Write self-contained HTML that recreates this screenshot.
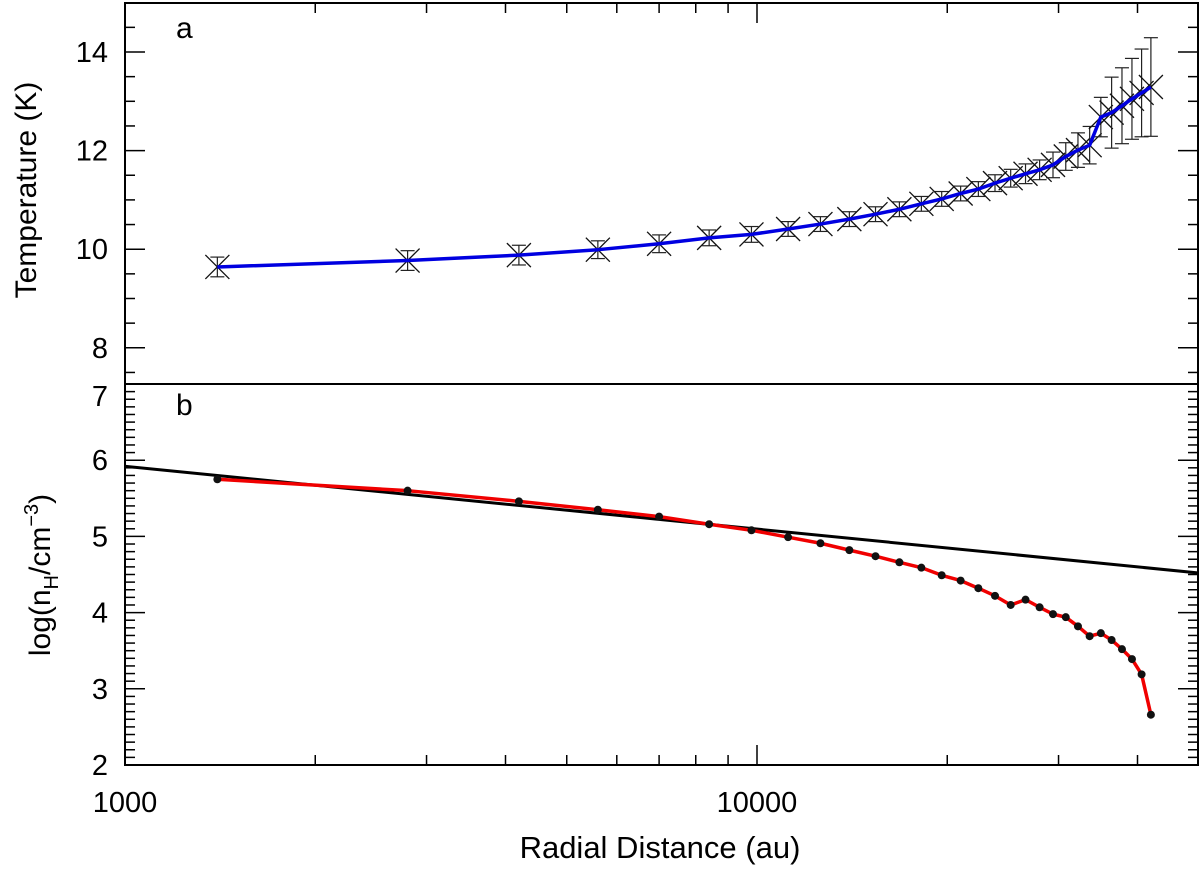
<!DOCTYPE html>
<html><head><meta charset="utf-8"><style>
html,body{margin:0;padding:0;background:#fff;}
svg{display:block;font-family:"Liberation Sans",sans-serif;}
</style></head><body>
<svg id="chart" width="1200" height="876" viewBox="0 0 1200 876">
<g id="axes"></g>
<g id="marks"></g>
<text x="176" y="38" font-size="30">a</text>
<text x="176" y="415" font-size="30">b</text>
<text x="660" y="858" font-size="31" text-anchor="middle">Radial Distance (au)</text>
<text transform="translate(36,190) rotate(-90)" font-size="30" text-anchor="middle">Temperature (K)</text>
<text transform="translate(50,575) rotate(-90)" font-size="30" text-anchor="middle">log(n<tspan font-size="20" dy="8">H</tspan><tspan dy="-8">/cm</tspan><tspan font-size="20" dy="-12">−3</tspan><tspan dy="12">)</tspan></text>
</svg>
<script>
const radiusIndex=[1,2,3,4,5,6,7,8,9,10,11,12,13,14,15,16,17,18,19,20,21,22,23,24,25,26,27,28,29,30];
const radiusStep=1400;
const temperature=[9.64,9.77,9.88,9.99,10.11,10.23,10.3,10.41,10.51,10.61,10.71,10.81,10.92,11.02,11.13,11.22,11.34,11.44,11.53,11.61,11.71,11.88,12.01,12.11,12.68,12.77,12.91,13.05,13.17,13.29];
const tempError=[0.2,0.2,0.2,0.18,0.18,0.16,0.16,0.15,0.15,0.15,0.15,0.15,0.15,0.15,0.15,0.15,0.17,0.18,0.2,0.2,0.26,0.28,0.35,0.38,0.4,0.72,0.77,0.82,0.89,1.0];
const density=[5.75,5.6,5.46,5.35,5.26,5.16,5.08,4.99,4.91,4.82,4.74,4.66,4.59,4.49,4.42,4.32,4.22,4.1,4.17,4.07,3.98,3.94,3.82,3.69,3.73,3.64,3.52,3.39,3.19,2.66];
const fitIntercept=5.92; // log n at r=1000
const fitSlope=-0.824;
const xTickLabels=["1000","10000"];
const tempTickLabels=["8","10","12","14"];
const densTickLabels=["2","3","4","5","6","7"];

const NS="http://www.w3.org/2000/svg";
const L=125,R=1198,T1=3,B1=384,B2=765;
const X=r=>L+(Math.log10(r)-3)*632;
const YT=t=>52+(14-t)*49.3;
const YD=v=>B2-(v-2)*76.2;
const axes=document.getElementById('axes'),marks=document.getElementById('marks');
function el(tag,attrs,parent){const e=document.createElementNS(NS,tag);for(const k in attrs)e.setAttribute(k,attrs[k]);(parent||axes).appendChild(e);return e;}
function line(x1,y1,x2,y2,sw,col,parent){return el('line',{x1,y1,x2,y2,stroke:col||'#000','stroke-width':sw||1.5},parent);}

const f1=el('rect',{x:L,y:T1,width:R-L,height:B1-T1,fill:'none',stroke:'#000','stroke-width':2});


const f2=el('rect',{x:L,y:B1,width:R-L,height:B2-B1,fill:'none',stroke:'#000','stroke-width':2});



for(let d=1000;d<=10000;d*=10){for(let m=1;m<=9;m++){const r=d*m;const x=X(r);if(x>R)continue;const len=m===1?20:10;
[[T1,1],[B2,-1]].forEach(([y,s])=>line(x,y,x,y+s*len,1.5));}}
xTickLabels.forEach(s=>{const t=el('text',{x:X(+s),y:812,'font-size':29,'text-anchor':'middle'});t.textContent=s;

});

for(let v=7.5;v<=15;v+=0.5){const y=YT(v);if(y<T1||y>B1)continue;const major=Math.abs(v/2-Math.round(v/2))<1e-6;const len=major?20:10;
line(L,y,L+len,y,1.5);line(R,y,R-len,y,1.5);}
tempTickLabels.forEach(s=>{const t=el('text',{x:108,y:YT(+s)+10,'font-size':29,'text-anchor':'end'});t.textContent=s;

});
for(let i=20;i<=70;i++){const v=i/10,y=YD(v);const major=i%10===0;const len=major?20:10;
line(L,y,L+len,y,1.5);line(R,y,R-len,y,1.5);}
densTickLabels.forEach(s=>{const ty=Math.max(YD(+s)+10,B1+22);const t=el('text',{x:108,y:ty,'font-size':29,'text-anchor':'end'});t.textContent=s;

});

const fit=line(X(1000),YD(fitIntercept),X(50000),YD(fitIntercept+fitSlope*Math.log10(50)),3,'#000',marks);



radiusIndex.forEach((k,i)=>{const x=X(k*radiusStep),y=YT(temperature[i]),e=tempError[i];
const g=el('g',{},marks);


const yt=YT(temperature[i]+e),yb=YT(temperature[i]-e);
line(x,yt,x,yb,1.2,'#222',g);line(x-7,yt,x+7,yt,1.2,'#222',g);line(x-7,yb,x+7,yb,1.2,'#222',g);
line(x-12,y-12,x+12,y+12,1.3,'#111',g);line(x-12,y+12,x+12,y-12,1.3,'#111',g);});
const tl=el('polyline',{points:radiusIndex.map((k,i)=>X(k*radiusStep)+','+YT(temperature[i])).join(' '),fill:'none',stroke:'#0000e0','stroke-width':3.5,'stroke-linejoin':'round'},marks);



const dl=el('polyline',{points:radiusIndex.map((k,i)=>X(k*radiusStep)+','+YD(density[i])).join(' '),fill:'none',stroke:'#f00000','stroke-width':3.5,'stroke-linejoin':'round'},marks);


radiusIndex.forEach((k,i)=>{const c=el('circle',{cx:X(k*radiusStep),cy:YD(density[i]),r:4,fill:'#111'},marks);

});
</script>
</body></html>
